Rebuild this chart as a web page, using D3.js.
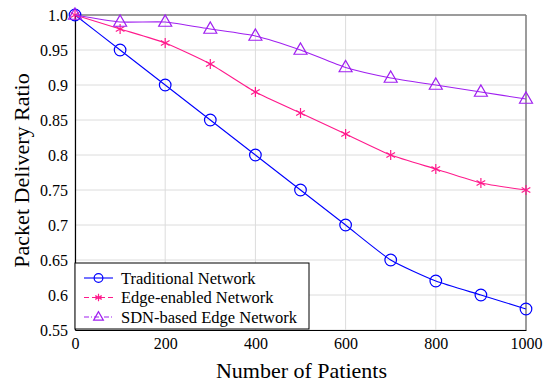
<!DOCTYPE html>
<html>
<head>
<meta charset="utf-8">
<script src="https://cdn.jsdelivr.net/npm/d3@7"></script>
<style>
  body { margin: 0; background: #fff; }
  text { font-family: "Liberation Serif", "DejaVu Serif", serif; fill: #000; }
</style>
</head>
<body>
<svg id="chart" width="551" height="384"></svg>
<script>
// Data
var patients = [0, 100, 200, 300, 400, 500, 600, 700, 800, 900, 1000];
var traditional = [1.0, 0.95, 0.9, 0.85, 0.8, 0.75, 0.7, 0.65, 0.62, 0.60, 0.58];
var edgeEnabled = [1.0, 0.98, 0.96, 0.93, 0.89, 0.86, 0.83, 0.80, 0.78, 0.76, 0.75];
var sdnEdge = [1.0, 0.99, 0.99, 0.98, 0.97, 0.95, 0.925, 0.91, 0.90, 0.89, 0.88];
var xTicks = [0, 200, 400, 600, 800, 1000];
var yTicks = [0.55, 0.6, 0.65, 0.7, 0.75, 0.8, 0.85, 0.9, 0.95, 1.0];
var yTickLabels = ["0.55", "0.6", "0.65", "0.7", "0.75", "0.8", "0.85", "0.9", "0.95", "1.0"];

var series = [
    {name: "Traditional Network", values: traditional, color: "#0000ff", marker: "circle", dash: null},
    {name: "Edge-enabled Network", values: edgeEnabled, color: "#ff1a8c", marker: "star", dash: "5,3"},
    {name: "SDN-based Edge Network", values: sdnEdge, color: "#a020f0", marker: "triangle", dash: "5,2,1,2"}
];

var svg = d3.select("#chart");
var pLeft = 75, pRight = 526, pTop = 15, pBottom = 330;

var x = d3.scaleLinear().domain([0, 1000]).range([pLeft, pRight]);
var y = d3.scaleLinear().domain([0.55, 1.0]).range([pBottom, pTop]);

// Grid
svg.append("g").selectAll("line").data(xTicks).enter().append("line")
    .attr("x1", function(d) { return x(d); }).attr("x2", function(d) { return x(d); })
    .attr("y1", pTop).attr("y2", pBottom)
    .attr("stroke", "#dcdcdc").attr("stroke-width", 1);
svg.append("g").selectAll("line").data(yTicks).enter().append("line")
    .attr("x1", pLeft).attr("x2", pRight)
    .attr("y1", function(d) { return y(d); }).attr("y2", function(d) { return y(d); })
    .attr("stroke", "#dcdcdc").attr("stroke-width", 1);

// Frame: top/right gray, left/bottom black
svg.append("line").attr("x1", pLeft).attr("x2", pRight).attr("y1", pTop).attr("y2", pTop)
    .attr("stroke", "#808080").attr("stroke-width", 1.5);
svg.append("line").attr("x1", pRight).attr("x2", pRight).attr("y1", pTop).attr("y2", pBottom)
    .attr("stroke", "#808080").attr("stroke-width", 1.5);

// Axes
var xAxis = d3.axisBottom(x).tickValues(xTicks).tickSize(0).tickPadding(8).tickFormat(d3.format("d"));
var yAxis = d3.axisLeft(y).tickValues(yTicks).tickSize(0).tickPadding(7)
    .tickFormat(function(d, i) { return yTickLabels[i]; });

var gx = svg.append("g").attr("transform", "translate(0," + pBottom + ")").call(xAxis);
var gy = svg.append("g").attr("transform", "translate(" + pLeft + ",0)").call(yAxis);
[gx, gy].forEach(function(g) {
    g.select(".domain").attr("stroke", "#000").attr("stroke-width", 1.2);
    g.selectAll("text").style("font-size", "16px").style("font-family", "'Liberation Serif', serif");
});

// Axis labels
svg.append("text").attr("x", (pLeft + pRight) / 2 + 1).attr("y", 378)
    .attr("text-anchor", "middle").style("font-size", "22px").text("Number of Patients");
svg.append("text").attr("transform", "translate(29," + ((pTop + pBottom) / 2 - 2) + ") rotate(-90)")
    .attr("text-anchor", "middle").style("font-size", "22px").text("Packet Delivery Ratio");

// Markers
function drawMarker(g, type, color, cx, cy, scale) {
    scale = scale || 1;
    if(type == "circle") {
        g.append("circle").attr("cx", cx).attr("cy", cy).attr("r", 5.8 * scale)
            .attr("fill", "none").attr("stroke", color).attr("stroke-width", 1.2);
    }
    else if(type == "star") {
        var r = 5 * scale;
        for(var k = 0; k < 3; k++) {
            var a = Math.PI / 2 + k * Math.PI / 3;
            g.append("line")
                .attr("x1", cx + r * Math.cos(a)).attr("y1", cy - r * Math.sin(a))
                .attr("x2", cx - r * Math.cos(a)).attr("y2", cy + r * Math.sin(a))
                .attr("stroke", color).attr("stroke-width", 1.2);
        }
    }
    else {
        var s = 6.5 * scale;
        var pts = [[cx, cy - s * 1.1], [cx - s, cy + s * 0.65], [cx + s, cy + s * 0.65]];
        g.append("polygon").attr("points", pts.map(function(p) { return p.join(","); }).join(" "))
            .attr("fill", "none").attr("stroke", color).attr("stroke-width", 1.2);
    }
}

var line = d3.line()
    .x(function(d, i) { return x(patients[i]); })
    .y(function(d) { return y(d); })
    .curve(d3.curveCardinal.tension(0.45));

series.forEach(function(s) {
    var g = svg.append("g");
    g.append("path").attr("d", line(s.values))
        .attr("fill", "none").attr("stroke", s.color).attr("stroke-width", 1.1);
    s.values.forEach(function(v, i) {
        drawMarker(g, s.marker, s.color, x(patients[i]), y(v));
    });
});

// Legend
var lg = svg.append("g");
var lx = pLeft, ly = 263, lw = 234, lh = 66;
lg.append("rect").attr("x", lx).attr("y", ly).attr("width", lw).attr("height", lh)
    .attr("fill", "#fff").attr("stroke", "#000").attr("stroke-width", 1);
series.forEach(function(s, i) {
    var yy = ly + 15 + i * 19.5;
    lg.append("line").attr("x1", lx + 9).attr("x2", lx + 38).attr("y1", yy).attr("y2", yy)
        .attr("stroke", s.color).attr("stroke-width", 1.1)
        .attr("stroke-dasharray", s.dash);
    drawMarker(lg, s.marker, s.color, lx + 23.5, yy, 0.75);
    lg.append("text").attr("x", lx + 46).attr("y", yy).attr("dy", "0.35em")
        .style("font-size", "16.5px").text(s.name);
});
</script>
</body>
</html>
